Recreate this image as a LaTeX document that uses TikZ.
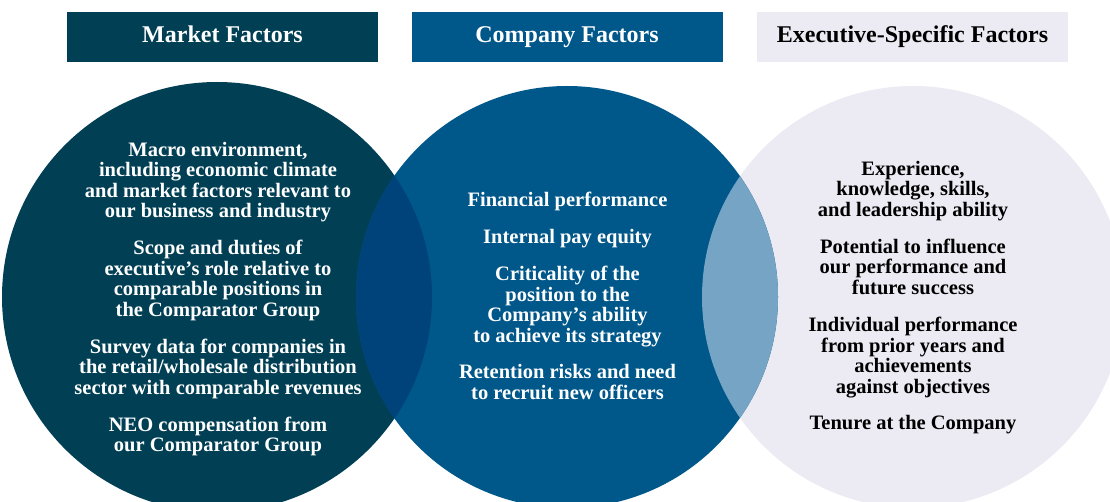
\documentclass[tikz,border=0pt]{standalone}
\usepackage{fontspec}
\setmainfont{Liberation Serif}

\definecolor{marketteal}{RGB}{0,63,84}
\definecolor{companyblue}{RGB}{0,87,138}
\definecolor{execgrey}{RGB}{236,235,243}
\definecolor{overlapdark}{RGB}{0,67,122}
\definecolor{overlaplight}{RGB}{118,164,196}

\tikzset{
    header/.style={minimum width=311pt, minimum height=50pt, inner sep=0pt,
        text height=17pt, text depth=5pt,
        font=\bfseries\fontsize{24}{24}\selectfont},
    blob/.style={circle, minimum size=422pt, inner sep=0pt},
    factors/.style={align=center, inner sep=0pt, anchor=north,
        font=\bfseries\fontsize{20.5}{20.5}\selectfont},
}

\begin{document}
\begin{tikzpicture}[x=1pt, y=-1pt]
        \useasboundingbox (0,0) rectangle (1110,502);

        \node[header, fill=marketteal, text=white] (mkthead) at (222.5,37) {Market Factors};
        \node[header, fill=companyblue, text=white] (cmphead) at (567,37) {Company Factors};
        \node[header, fill=execgrey, text=black] (exehead) at (912.5,37) {Executive-Specific Factors};

        \begin{scope}
            \clip (0,0) rectangle (1110,502);
            \node[blob, fill=marketteal, minimum size=430pt] (mkt) at (217,297) {};
            \node[blob, fill=execgrey] (exe) at (913,297) {};
            \node[blob, fill=companyblue] (cmp) at (567,297) {};
            % lens shapes where the circles meet
            \begin{scope}
                \clip (cmp.center) circle[radius=211pt];
                \fill[overlapdark] (mkt.center) circle[radius=215pt];
            \end{scope}
            \begin{scope}
                \clip (cmp.center) circle[radius=211pt];
                \fill[overlaplight] (exe.center) circle[radius=211pt];
            \end{scope}
        \end{scope}

        \node[factors, text=white] (mkttext) at (218,142) {Macro environment,\\
            including economic climate\\
            and market factors relevant to\\
            our business and industry\\[16.5pt]
            Scope and duties of\\
            executive’s role relative to\\
            comparable positions in\\
            the Comparator Group\\[16.5pt]
            Survey data for companies in\\
            the retail/wholesale distribution\\
            sector with comparable revenues\\[16.5pt]
            NEO compensation from\\
            our Comparator Group};
        \node[factors, text=white] (cmptext) at (567.5,192) {Financial performance\\[16.5pt]
            Internal pay equity\\[16.5pt]
            Criticality of the\\
            position to the\\
            Company’s ability\\
            to achieve its strategy\\[16pt]
            Retention risks and need\\
            to recruit new officers};
        \node[factors, text=black] (exetext) at (913,161) {Experience,\\
            knowledge, skills,\\
            and leadership ability\\[16.5pt]
            Potential to influence\\
            our performance and\\
            future success\\[17pt]
            Individual performance\\
            from prior years and\\
            achievements\\
            against objectives\\[16pt]
            Tenure at the Company};
\end{tikzpicture}
\end{document}
